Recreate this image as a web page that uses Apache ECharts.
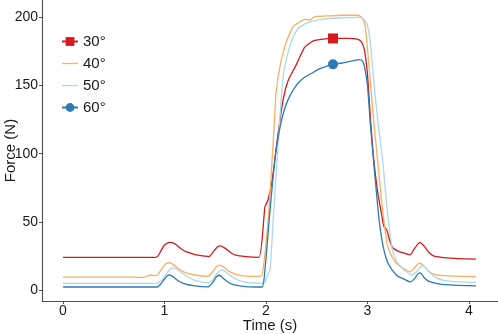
<!DOCTYPE html>
<html>
<head>
<meta charset="utf-8">
<script src="https://cdn.jsdelivr.net/npm/echarts@6/dist/echarts.min.js"></script>
<style>
html, body { margin: 0; padding: 0; background: #fff; }
#forceChart { width: 498px; height: 334px; }
</style>
</head>
<body>
<div id="forceChart"></div>
<script>
// 数据: [时间 s, 力 N]
var seriesNames = ['30°', '40°', '50°', '60°'];
var xTicks = [0, 1, 2, 3, 4];
var yTicks = [0, 50, 100, 150, 200];

var force30 = [[0, 24], [0.92, 24], [0.96, 28], [1.0, 33], [1.05, 35], [1.1, 34], [1.15, 31], [1.2, 28.5], [1.3, 26],
	[1.4, 24.8], [1.44, 24.5], [1.48, 28], [1.52, 31.5], [1.55, 32.4], [1.6, 30.5], [1.65, 27.5], [1.7, 25.5],
	[1.8, 24.5], [1.93, 24], [1.99, 61], [2.02, 66], [2.06, 80], [2.12, 115], [2.17, 140], [2.22, 154], [2.29, 164],
	[2.34, 172], [2.38, 178], [2.43, 181], [2.48, 183], [2.56, 184], [2.66, 184.5], [2.8, 184.5], [2.9, 184],
	[2.94, 182], [2.97, 176], [3.0, 158], [3.03, 125], [3.06, 97], [3.1, 72], [3.14, 55], [3.16, 47], [3.19, 44],
	[3.22, 36], [3.25, 31], [3.3, 28.5], [3.36, 27], [3.42, 25.8], [3.46, 30], [3.5, 34], [3.52, 34.8], [3.56, 32],
	[3.6, 28], [3.65, 25], [3.75, 23.8], [3.9, 23], [4.07, 22.6]];

var force40 = [[0, 9.5], [0.7, 9.5], [0.75, 9.2], [0.8, 9.3], [0.86, 11], [0.9, 10.6], [0.93, 11], [0.97, 15],
	[1.01, 19], [1.04, 20], [1.08, 19], [1.13, 16], [1.2, 13], [1.3, 11], [1.43, 10], [1.47, 13], [1.51, 17],
	[1.54, 18.3], [1.58, 17], [1.63, 14], [1.7, 11.5], [1.8, 10.2], [1.95, 10], [1.98, 20], [2.02, 50], [2.05, 83],
	[2.08, 120], [2.1, 145], [2.14, 165], [2.2, 182], [2.24, 189], [2.27, 193.5], [2.32, 196], [2.38, 198.5],
	[2.43, 198], [2.48, 200.5], [2.6, 201], [2.75, 201.5], [2.9, 201.5], [2.94, 200], [2.97, 196], [2.99, 185],
	[3.02, 160], [3.06, 125], [3.1, 95], [3.14, 65], [3.19, 35], [3.23, 26], [3.28, 20], [3.35, 16], [3.42, 13.3],
	[3.46, 16], [3.51, 19.6], [3.55, 18], [3.6, 14], [3.66, 11.5], [3.75, 10.5], [4.07, 9.8]];

var force50 = [[0, 4.8], [0.92, 4.8], [0.97, 7], [1.02, 12], [1.06, 15.5], [1.09, 16.2], [1.13, 15], [1.2, 11],
	[1.3, 7], [1.43, 5.2], [1.48, 8], [1.52, 12.5], [1.56, 15], [1.6, 13.5], [1.66, 10], [1.75, 6.5], [1.85, 5.2],
	[1.98, 5], [2.01, 10], [2.04, 15], [2.07, 50], [2.1, 85], [2.12, 108], [2.17, 157], [2.22, 175], [2.27, 186],
	[2.32, 192], [2.38, 195], [2.45, 197], [2.55, 198.5], [2.7, 199.5], [2.9, 200], [2.96, 199], [3.0, 194],
	[3.03, 180], [3.06, 155], [3.1, 125], [3.15, 95], [3.19, 62], [3.24, 32], [3.28, 22], [3.33, 17], [3.38, 13.5],
	[3.44, 11], [3.48, 13], [3.52, 16.5], [3.55, 17.6], [3.6, 14], [3.66, 9.8], [3.75, 7], [3.9, 6], [4.07, 5.6]];

var force60 = [[0, 2.2], [0.93, 2.2], [0.97, 5], [1.01, 9], [1.04, 11], [1.08, 10], [1.13, 7], [1.2, 4.5], [1.3, 3],
	[1.43, 2.3], [1.47, 5], [1.51, 9.5], [1.54, 10.8], [1.58, 8.5], [1.63, 5.5], [1.7, 3.5], [1.8, 2.5], [1.96, 2.2],
	[1.99, 15], [2.03, 50], [2.07, 83], [2.1, 103], [2.14, 120], [2.18, 132], [2.22, 140], [2.27, 147], [2.32, 152],
	[2.38, 156], [2.45, 159], [2.52, 162], [2.58, 163.7], [2.66, 165.5], [2.75, 166.5], [2.85, 168], [2.92, 169],
	[2.95, 168], [2.97, 164], [3.0, 150], [3.03, 120], [3.06, 95], [3.09, 70], [3.12, 48], [3.16, 30], [3.2, 20],
	[3.25, 14], [3.3, 10], [3.36, 8], [3.42, 6], [3.46, 8], [3.5, 12], [3.52, 12.5], [3.56, 9], [3.6, 6.5],
	[3.7, 4.5], [3.85, 3.5], [4.07, 3]];

// 标记点
var marker30 = [2.66, 184.5];
var marker60 = [2.66, 165.5];

var colors = ['#d7191c', '#fdae61', '#abd9e9', '#2c7bb6'];
var fontName = '"Liberation Sans", Arial, sans-serif';
// 无标记的图例只画一条线
var lineIcon = 'path://M0,0H16V1.3H0Z';

var forceChart = echarts.init(document.getElementById('forceChart'));

var lineSeries = function(name, data, color, symbol, marker) {
	var s = {
		name : name,
		type : 'line',
		data : data,
		symbol : symbol,
		showSymbol : false,
		symbolSize : 9,
		smooth : 0.2,
		color : color,
		lineStyle : { width : 1.3, color : color },
		itemStyle : { color : color },
		emphasis : { disabled : true }
	};
	if (marker) {
		s.markPoint = {
			symbol : symbol,
			symbolSize : 10,
			itemStyle : { color : color },
			label : { show : false },
			data : [ { coord : marker } ]
		};
	}
	return s;
};

var option = {
	animation : false,
	grid : {
		left : 42,
		right : 0,
		top : 0,
		bottom : 33,
		outerBoundsMode : 'none',
		containLabel : false
	},
	legend : {
		orient : 'vertical',
		left : 56,
		top : 29,
		itemWidth : 16,
		itemHeight : 11,
		itemGap : 7,
		textStyle : { fontFamily : fontName, fontSize : 15, color : '#1a1a1a' },
		data : [
			{ name : seriesNames[0] },
			{ name : seriesNames[1], icon : lineIcon },
			{ name : seriesNames[2], icon : lineIcon },
			{ name : seriesNames[3] }
		]
	},
	xAxis : {
		type : 'value',
		min : -0.207,
		max : 4.286,
		name : 'Time (s)',
		nameLocation : 'middle',
		nameGap : 17,
		nameMoveOverlap : false,
		nameTextStyle : { fontFamily : fontName, fontSize : 15, color : '#1a1a1a' },
		splitLine : { show : false },
		axisLine : { onZero : false, lineStyle : { color : '#4d4d4d', width : 1.1 } },
		axisTick : { customValues : xTicks, length : 3, lineStyle : { color : '#4d4d4d' } },
		axisLabel : { customValues : xTicks, margin : 3, fontFamily : fontName, fontSize : 14, color : '#1a1a1a' }
	},
	yAxis : {
		type : 'value',
		min : -8.07,
		max : 212.7,
		name : 'Force (N)',
		nameLocation : 'middle',
		nameRotate : 90,
		nameGap : 24,
		nameMoveOverlap : false,
		nameTextStyle : { fontFamily : fontName, fontSize : 15, color : '#1a1a1a' },
		splitLine : { show : false },
		axisLine : { onZero : false, lineStyle : { color : '#4d4d4d', width : 1.1 } },
		axisTick : { customValues : yTicks, length : 3, lineStyle : { color : '#4d4d4d' } },
		axisLabel : { customValues : yTicks, margin : 4, fontFamily : fontName, fontSize : 14, color : '#1a1a1a' }
	},
	series : [
		lineSeries(seriesNames[0], force30, colors[0], 'rect', marker30),
		lineSeries(seriesNames[1], force40, colors[1], 'none', null),
		lineSeries(seriesNames[2], force50, colors[2], 'none', null),
		lineSeries(seriesNames[3], force60, colors[3], 'circle', marker60)
	]
};
forceChart.setOption(option);
</script>
</body>
</html>
